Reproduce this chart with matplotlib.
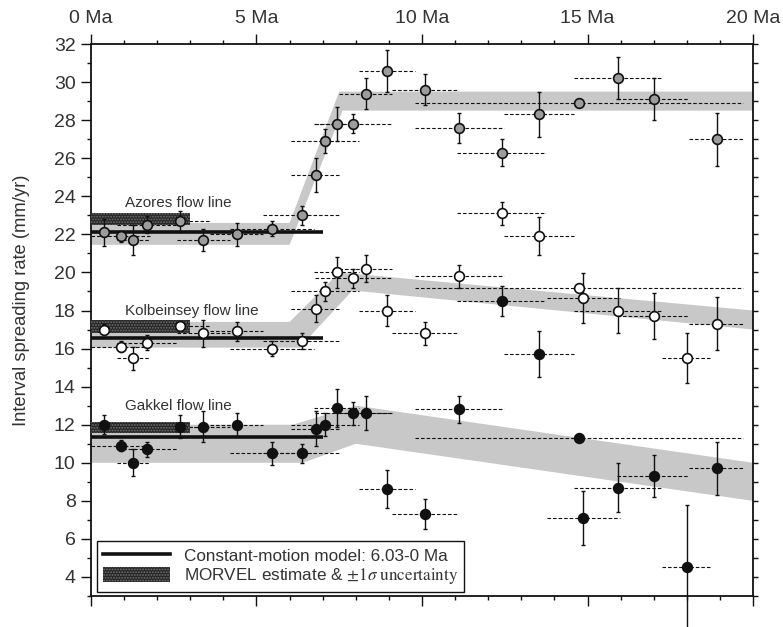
import numpy as np
import matplotlib
matplotlib.use('Agg')
import matplotlib.pyplot as plt
from matplotlib.lines import Line2D
from matplotlib.patches import Patch, Rectangle
from matplotlib.ticker import MultipleLocator, FixedLocator, FixedFormatter

plt.rcParams['font.family'] = ['Liberation Sans', 'DejaVu Sans']
plt.rcParams['mathtext.fontset'] = 'stix'
plt.rcParams['hatch.linewidth'] = 0.9

# ---------------- data ----------------
# interval ages (Ma) and interval bounds (dashed lines)
ages_all = [0.39, 0.90, 1.28, 1.68, 2.69, 3.39, 4.40, 5.46, 6.38, 6.79, 7.08, 7.42,
            7.93, 8.31, 8.93, 10.09, 11.13, 12.41, 13.54, 14.74, 14.85, 15.92,
            17.0, 18.0, 18.9]
int_start = [0.0, 0.0, 0.78, 0.78, 1.78, 2.59, 3.6, 4.19, 5.2, 6.04, 6.04, 6.73,
             6.78, 7.5, 8.1, 9.1, 9.8, 11.07, 12.48, 9.8, 13.77, 14.6,
             15.88, 17.24, 18.07]
int_end = [0.78, 1.78, 1.78, 2.59, 3.6, 4.19, 5.2, 6.73, 7.5, 7.5, 8.1, 8.1,
           9.08, 9.1, 9.8, 11.05, 12.48, 13.74, 14.6, 19.7, 15.98, 17.24,
           18.05, 18.75, 19.7]

# Azores (no points at 14.85 and 18.0 Ma -> None)
az_rate = [22.1, 21.9, 21.7, 22.5, 22.7, 21.7, 22.0, 22.3, 23.0, 25.1, 26.9, 27.8,
           27.8, 29.4, 30.6, 29.6, 27.6, 26.3, 28.3, 28.9, None, 30.2,
           29.1, None, 27.0]
az_err = [0.7, 0.3, 0.8, 0.45, 0.55, 0.6, 0.6, 0.4, 0.5, 0.9, 0.65, 0.9,
          0.5, 0.8, 1.1, 0.8, 0.8, 0.7, 1.2, 0.0, None, 1.1,
          1.1, None, 1.4]

# Kolbeinsey
kb_rate = [17.0, 16.1, 15.5, 16.3, 17.2, 16.8, 16.9, 16.0, 16.4, 18.1, 19.0, 20.0,
           19.7, 20.2, 18.0, 16.8, 19.8, 23.1, 21.9, 19.2, 18.65, 18.0,
           17.7, 15.5, 17.3]
kb_err = [0.3, 0.3, 0.6, 0.4, 0.15, 0.7, 0.5, 0.4, 0.4, 0.7, 0.5, 0.8,
          0.5, 0.7, 0.8, 0.6, 0.6, 0.6, 1.0, 0.0, 1.3, 1.2,
          1.2, 1.3, 1.4]

# Gakkel
gk_rate = [12.0, 10.9, 10.0, 10.7, 11.9, 11.9, 12.0, 10.5, 10.5, 11.8, 12.0, 12.9,
           12.6, 12.6, 8.6, 7.3, 12.8, 18.5, 15.7, 11.3, 7.1, 8.7,
           9.3, 4.5, 9.7]
gk_err = [0.5, 0.3, 0.7, 0.4, 0.6, 0.8, 0.6, 0.6, 0.5, 0.9, 0.6, 1.0,
          0.6, 0.9, 1.0, 0.8, 0.7, 0.8, 1.2, 0.0, 1.4, 1.3,
          1.1, 3.3, 1.4]

# model bands (upper / lower edges)
az_up_x, az_up_y = [0, 6.0, 7.5, 20], [22.6, 22.6, 29.5, 29.5]
az_lo_x, az_lo_y = [0, 6.0, 7.6, 20], [21.45, 21.45, 28.5, 28.5]
kb_up_x, kb_up_y = [0, 6.0, 7.5, 20], [17.4, 17.4, 20.0, 18.0]
kb_lo_x, kb_lo_y = [0, 6.3, 7.9, 20], [16.05, 16.05, 19.05, 17.0]
gk_up_x, gk_up_y = [0, 6.1, 8.0, 20], [12.0, 12.0, 13.0, 10.0]
gk_lo_x, gk_lo_y = [0, 6.4, 8.0, 20], [10.0, 10.0, 11.0, 8.0]

# constant-motion model (6.03-0 Ma)
cm_x = [0, 7.0]
cm_rates = {'az': 22.1, 'kb': 16.55, 'gk': 11.35}

# MORVEL estimates (low, high) over 0-3 Ma
morvel_x = [0, 3.0]
morvel = {'az': (22.5, 23.1), 'kb': (16.8, 17.5), 'gk': (11.55, 12.15)}

flow_labels = ['Azores flow line', 'Kolbeinsey flow line', 'Gakkel flow line']
flow_label_y = [23.65, 17.95, 13.0]

xtick_vals = [0, 5, 10, 15, 20]
xtick_labels = ['0 Ma', '5 Ma', '10 Ma', '15 Ma', '20 Ma']
ytick_vals = list(range(4, 33, 2))

legend_labels = ['Constant-motion model: 6.03-0 Ma',
                 r'MORVEL estimate & $\pm1\sigma\ \mathrm{uncertainty}$']

# ---------------- figure ----------------
fig = plt.figure(figsize=(7.83, 6.27), dpi=100)
ax = fig.add_axes([0.1162, 0.0494, 0.8455, 0.8804])
ax.set_xlim(0, 20)
ax.set_ylim(3, 32)

band_color = '#c8c8c8'
for ux, uy, lx, ly in [(az_up_x, az_up_y, az_lo_x, az_lo_y),
                       (kb_up_x, kb_up_y, kb_lo_x, kb_lo_y),
                       (gk_up_x, gk_up_y, gk_lo_x, gk_lo_y)]:
    px = list(ux) + list(lx)[::-1]
    py = list(uy) + list(ly)[::-1]
    ax.fill(px, py, color=band_color, lw=0, zorder=1)

# MORVEL boxes
morvel_face = '#262626'
morvel_hatch_col = '#707070'
for key in ['az', 'kb', 'gk']:
    lo, hi = morvel[key]
    ax.add_patch(Rectangle((morvel_x[0], lo), morvel_x[1] - morvel_x[0], hi - lo,
                           facecolor=morvel_face, edgecolor=morvel_hatch_col,
                           hatch='......', lw=0, zorder=3))

# constant-motion lines
for key in ['az', 'kb', 'gk']:
    ax.plot(cm_x, [cm_rates[key]] * 2, color='#111111', lw=2.6, zorder=4,
            solid_capstyle='butt')

dash_style = (0, (3.2, 1.8))


def draw_series(rates, errs, face):
    for a, r, e, s, t in zip(ages_all, rates, errs, int_start, int_end):
        if r is None:
            continue
        ax.plot([s, t], [r, r], color='#111111', lw=0.8, ls=dash_style, zorder=2)
        if e and e > 0:
            ax.errorbar([a], [r], yerr=[e], fmt='none', ecolor='#111111',
                        elinewidth=1.0, capsize=1.3, capthick=1.0, zorder=5,
                        clip_on=False)
        ax.plot([a], [r], marker='o', ms=7, mfc=face, mec='#111111', mew=1.2,
                ls='none', zorder=6)


draw_series(az_rate, az_err, '#9c9c9c')
draw_series(kb_rate, kb_err, 'white')
draw_series(gk_rate, gk_err, '#111111')

for lab, ly in zip(flow_labels, flow_label_y):
    ax.text(1.03, ly, lab, fontsize=11, color='#333333', va='center', ha='left',
            zorder=7)

# ticks
ax.xaxis.set_major_locator(FixedLocator(xtick_vals))
ax.xaxis.set_major_formatter(FixedFormatter(xtick_labels))
ax.xaxis.set_minor_locator(MultipleLocator(1))
ax.tick_params(axis='x', which='both', top=True, bottom=True, labeltop=True,
               labelbottom=False, direction='out', width=1.0, color='#111111')
ax.tick_params(axis='x', which='major', length=7, pad=5, labelsize=14,
               labelcolor='#333333')
ax.tick_params(axis='x', which='minor', length=3)

ax.yaxis.set_major_locator(FixedLocator(ytick_vals))
ax.yaxis.set_minor_locator(MultipleLocator(1))
ax.tick_params(axis='y', which='both', left=True, right=False, direction='out',
               width=1.0, color='#111111')
ax.tick_params(axis='y', which='major', length=7, pad=4, labelsize=14,
               labelcolor='#333333')
ax.tick_params(axis='y', which='minor', length=3)

for sp in ax.spines.values():
    sp.set_linewidth(1.3)
    sp.set_color('#111111')

ax.set_ylabel('Interval spreading rate (mm/yr)', fontsize=13.2, color='#333333')
ax.yaxis.set_label_coords(-0.092, 0.535)

ax2 = ax.twinx()
ax2.set_ylim(3, 32)
ax2.yaxis.set_major_locator(MultipleLocator(1))
ax2.tick_params(axis='y', which='major', right=True, labelright=False, length=3.5,
                width=1.0, color='#111111', direction='out')
for sp in ax2.spines.values():
    sp.set_visible(False)

handles = [Line2D([0], [0], color='#111111', lw=2.6),
           Patch(facecolor=morvel_face, edgecolor=morvel_hatch_col, hatch='......', lw=0)]
leg = ax.legend(handles, legend_labels, loc='lower left',
                bbox_to_anchor=(0.0095, 0.0067), borderaxespad=0, fontsize=12.3,
                frameon=True, fancybox=False, framealpha=1, edgecolor='#111111',
                handlelength=3.9, handleheight=1.0, handletextpad=0.8,
                labelspacing=0.15, borderpad=0.35, labelcolor='#333333')
leg.get_frame().set_linewidth(1.0)
leg.set_zorder(10)

fig.savefig('out.png', dpi=100)
